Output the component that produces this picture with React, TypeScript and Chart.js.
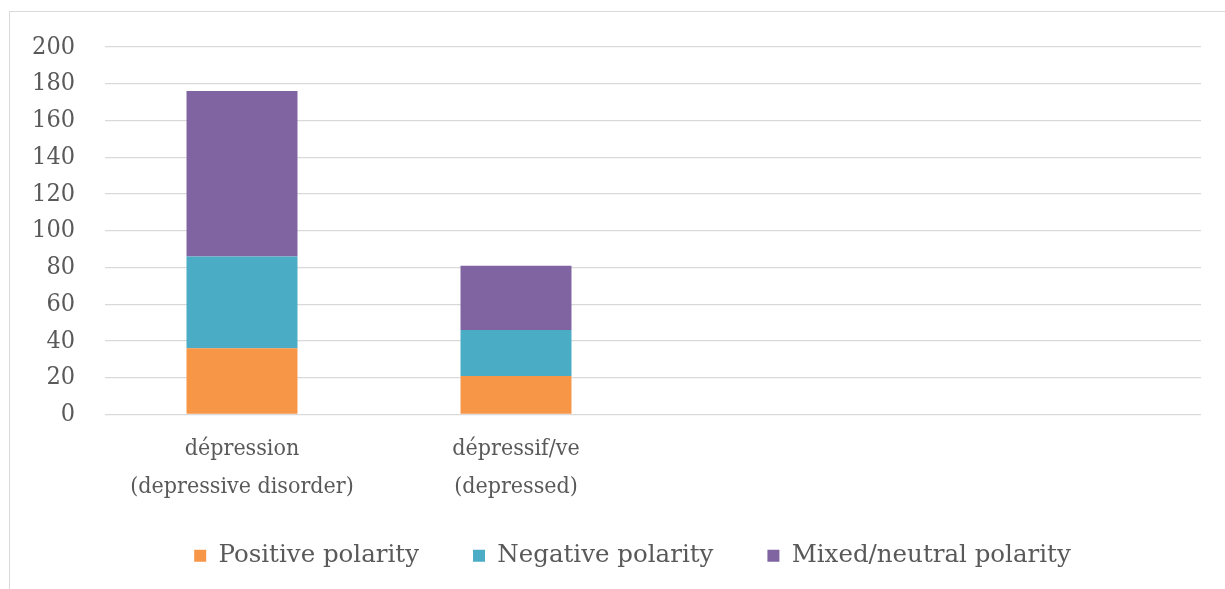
import React, { useEffect, useRef } from "react";
import { Chart, registerables } from "chart.js";

Chart.register(...registerables);

const categories: (string | string[])[] = [
  ["dépression", "(depressive disorder)"],
  ["dépressif/ve", "(depressed)"],
  "",
  "",
];
const positiveValues = [36, 21, null, null];
const negativeValues = [50, 25, null, null];
const mixedValues = [90, 35, null, null];
const seriesNames = ["Positive polarity", "Negative polarity", "Mixed/neutral polarity"];
const seriesColors = ["#F79646", "#4BACC6", "#8064A2"];
const yMin = 0;
const yMax = 200;
const yStep = 20;

const W = 1225;
const H = 589;

const legendShift = {
  id: "legendShift",
  afterLayout(chart: any) {
    const lg = chart.legend;
    if (!lg) return;
    lg.left = 64;
    const h = lg.bottom - lg.top;
    lg.top = H - h - 11;
    lg.bottom = lg.top + h;
  },
};

export default function App() {
  const ref = useRef<HTMLCanvasElement | null>(null);
  useEffect(() => {
    if (!ref.current) return;
    const values = [positiveValues, negativeValues, mixedValues];
    const chart = new Chart(ref.current, {
      type: "bar",
      data: {
        labels: categories,
        datasets: values.map((v, i) => ({
          label: seriesNames[i],
          data: v,
          backgroundColor: seriesColors[i],
          borderWidth: 0,
          barPercentage: 0.405,
          categoryPercentage: 1,
        })),
      },
      plugins: [legendShift],
      options: {
        responsive: false,
        maintainAspectRatio: false,
        animation: false,
        devicePixelRatio: 1,
        events: [],
        layout: { padding: { left: 0, right: 24, top: 47, bottom: 0 } },
        plugins: {
          tooltip: { enabled: false },
          legend: {
            position: "bottom",
            labels: {
              boxWidth: 12,
              boxHeight: 12,
              padding: 54,
              color: "#595959",
              font: { family: "'DejaVu Serif'", size: 24.5 },
            },
          },
        },
        scales: {
          x: {
            stacked: true,
            grid: { display: false },
            border: { display: false },
            ticks: {
              color: "#595959",
              padding: 7,
              maxRotation: 0,
              autoSkip: false,
              font: { family: "'DejaVu Serif Condensed', 'DejaVu Serif'", size: 23, lineHeight: 1.66 },
            },
            afterFit: (s: any) => {
              s.height = 86;
            },
          },
          y: {
            stacked: true,
            min: yMin,
            max: yMax,
            grid: { color: "#d9d9d9", lineWidth: 1.3, drawTicks: false },
            border: { display: false },
            ticks: {
              stepSize: yStep,
              color: "#595959",
              padding: 30,
              font: { family: "'DejaVu Serif Condensed', 'DejaVu Serif'", size: 25 },
            },
            afterFit: (s: any) => {
              s.width = 105;
            },
          },
        },
      },
    });
    return () => chart.destroy();
  }, []);
  return (
    <>
      <div
        style={{
          position: "fixed",
          left: 9,
          top: 11,
          width: W - 9,
          height: H - 11,
          borderLeft: "1px solid #d9d9d9",
          borderTop: "1px solid #d9d9d9",
          boxSizing: "border-box",
          background: "#fff",
        }}
      />
      <canvas
        ref={ref}
        width={W}
        height={H}
        style={{ position: "fixed", left: 0, top: 0, width: W, height: H }}
      />
    </>
  );
}
